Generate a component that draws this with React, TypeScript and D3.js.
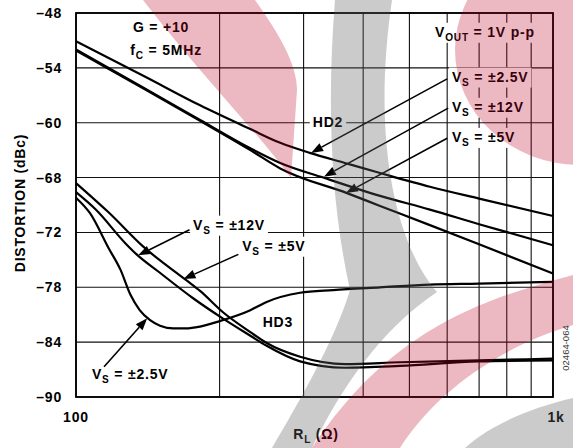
import React from 'react';
import * as d3 from 'd3';

const WIDTH = 573;
const HEIGHT = 448;

// axes
const X_DOMAIN = [100, 1000];
const Y_DOMAIN = [-90, -48];
const X_GRID = [100, 200, 300, 400, 500, 600, 700, 800, 900, 1000];
const X_TICK_VALUES = [100, 1000];
const X_TICK_LABELS = ['100', '1k'];
const Y_TICK_VALUES = [-48, -54, -60, -66, -72, -78, -84, -90];
const Y_TICK_LABELS = ['–48', '–54', '–60', '–68', '–72', '–78', '–84', '–90'];

// HD2 series (R_L in ohms, distortion in dBc)
const HD2_VS25_R = [100, 140, 182, 232, 268, 309, 366, 434, 552, 700, 1000];
const HD2_VS25_DB = [-51.1, -55.0, -58.1, -60.7, -62.2, -63.3, -64.4, -65.5, -67.0, -68.3, -70.2];
const HD2_VS12_R = [100, 140, 182, 232, 268, 330, 434, 552, 700, 1000];
const HD2_VS12_DB = [-52.0, -56.3, -59.7, -62.8, -64.4, -66.0, -68.0, -69.5, -71.1, -73.4];
const HD2_VS5_R = [100, 140, 182, 232, 268, 370, 434, 552, 700, 1000];
const HD2_VS5_DB = [-52.1, -56.4, -59.8, -63.0, -65.0, -67.7, -69.1, -71.2, -73.3, -76.5];

// HD3 series
const HD3_VS25_R = [100, 107, 117, 124, 130, 136, 143, 150, 160, 170, 182, 200, 232, 251, 295, 346, 434, 552, 700, 1000];
const HD3_VS25_DB = [-68.2, -69.9, -73.7, -76.1, -78.8, -80.5, -81.6, -82.2, -82.5, -82.5, -82.3, -81.7, -80.5, -79.6, -78.6, -78.3, -78.0, -77.7, -77.6, -77.4];
const HD3_VS5_R = [100, 117, 138, 170, 182, 203, 232, 251, 295, 366, 478, 700, 1000];
const HD3_VS5_DB = [-66.6, -69.8, -73.5, -77.2, -78.4, -80.7, -82.9, -84.1, -85.6, -86.4, -86.2, -86.0, -85.8];
const HD3_VS12_R = [100, 110, 127, 134, 149, 176, 203, 232, 251, 295, 366, 478, 700, 1000];
const HD3_VS12_DB = [-67.6, -69.5, -73.2, -74.4, -76.3, -79.2, -81.4, -83.3, -84.4, -86.1, -86.8, -86.6, -86.1, -86.0];

const SERIES_R = [HD2_VS25_R, HD2_VS12_R, HD2_VS5_R, HD3_VS25_R, HD3_VS5_R, HD3_VS12_R];
const SERIES_DB = [HD2_VS25_DB, HD2_VS12_DB, HD2_VS5_DB, HD3_VS25_DB, HD3_VS5_DB, HD3_VS12_DB];

// annotation labels ({} = subscript)
const LABEL_TEXT = ['G = +10', 'f{C} = 5MHz', 'V{OUT} = 1V p-p', 'V{S} = ±2.5V', 'V{S} = ±12V', 'V{S} = ±5V', 'HD2', 'V{S} = ±12V', 'V{S} = ±5V', 'HD3', 'V{S} = ±2.5V'];
const LABEL_R = [131.6, 130, 566, 614, 614, 614, 337.5, 176, 223, 265, 108];
const LABEL_DB = [-50.1, -52.6, -50.6, -55.5, -58.8, -62.1, -60.5, -71.7, -74.0, -82.3, -88.0];
const LABEL_ANCHOR = ['start', 'start', 'start', 'start', 'start', 'start', 'middle', 'start', 'start', 'middle', 'start'];
const LABEL_BOX = [false, false, true, true, true, true, true, true, true, true, true];

// arrows
const ARROW_TAIL_R = [600, 603, 600, 173, 219, 114.5];
const ARROW_TAIL_DB = [-55.2, -58.4, -61.7, -71.7, -74.4, -86.7];
const ARROW_TIP_R = [311, 331, 368, 135, 168, 141];
const ARROW_TIP_DB = [-63.3, -65.9, -67.7, -74.5, -77.1, -81.4];

const FONT = "'Liberation Sans', Arial, Helvetica, sans-serif";

function parseRich(s: string): [string, boolean][] {
  const out: [string, boolean][] = [];
  const re = /\{([^}]*)\}|([^{]+)/g;
  let m;
  while ((m = re.exec(s))) {
    if (m[1] !== undefined) out.push([m[1], true]);
    else out.push([m[2], false]);
  }
  return out;
}

function richText(g: any, x: number, y: number, s: string, anchor: string, size = 14) {
  const t = g.append('text')
    .attr('x', x).attr('y', y)
    .attr('text-anchor', anchor)
    .attr('font-family', FONT)
    .attr('font-weight', 'bold')
    .attr('font-size', size)
    .attr('letter-spacing', 0.8)
    .attr('fill', '#000');
  let shifted = false;
  parseRich(s).forEach(([txt, sub]) => {
    const ts = t.append('tspan').text(txt);
    if (sub) {
      ts.attr('font-size', size * 0.72);
      if (!shifted) { ts.attr('dy', 4); shifted = true; }
    } else if (shifted) {
      ts.attr('dy', -4); shifted = false;
    }
  });
  return t;
}

export default function App() {
  const ref = React.useRef<SVGSVGElement>(null);

  React.useEffect(() => {
    const svg = d3.select(ref.current);
    svg.selectAll('*').remove();

    const x = d3.scaleLog().domain(X_DOMAIN).range([76, 553]);
    const y = d3.scaleLinear().domain(Y_DOMAIN).range([397, 13]);

    svg.append('rect').attr('width', WIDTH).attr('height', HEIGHT).attr('fill', '#fff');

    const grid = svg.append('g').attr('stroke', '#111').attr('stroke-width', 1.1);
    X_GRID.forEach(v => {
      grid.append('line').attr('x1', x(v)).attr('x2', x(v)).attr('y1', y(Y_DOMAIN[1])).attr('y2', y(Y_DOMAIN[0]));
    });
    Y_TICK_VALUES.forEach(v => {
      grid.append('line').attr('x1', x(X_DOMAIN[0])).attr('x2', x(X_DOMAIN[1])).attr('y1', y(v)).attr('y2', y(v));
    });

    svg.append('rect')
      .attr('x', x(X_DOMAIN[0])).attr('y', y(Y_DOMAIN[1]))
      .attr('width', x(X_DOMAIN[1]) - x(X_DOMAIN[0]))
      .attr('height', y(Y_DOMAIN[0]) - y(Y_DOMAIN[1]))
      .attr('fill', 'none').attr('stroke', '#000').attr('stroke-width', 1.8);

    const bgLayer = svg.append('g');
    const curveLayer = svg.append('g');
    const textLayer = svg.append('g');

    LABEL_TEXT.forEach((s, i) => {
      const t = richText(textLayer, x(LABEL_R[i]), y(LABEL_DB[i]), s, LABEL_ANCHOR[i]);
      if (LABEL_BOX[i]) {
        const bb = (t.node() as SVGTextElement).getBBox();
        bgLayer.append('rect')
          .attr('x', bb.x - 3).attr('y', bb.y - 1)
          .attr('width', bb.width + 6).attr('height', bb.height + 1)
          .attr('fill', '#fff');
      }
    });

    const line = d3.line<[number, number]>()
      .x(d => x(d[0])).y(d => y(d[1]))
      .curve(d3.curveMonotoneX);

    SERIES_R.forEach((rs, i) => {
      const pts = rs.map((r, j) => [r, SERIES_DB[i][j]] as [number, number]);
      curveLayer.append('path')
        .attr('d', line(pts))
        .attr('fill', 'none').attr('stroke', '#000').attr('stroke-width', 2.2)
        .attr('stroke-linejoin', 'round');
    });

    const arrows = svg.append('g');
    ARROW_TAIL_R.forEach((_, i) => {
      const x1 = x(ARROW_TAIL_R[i]), y1 = y(ARROW_TAIL_DB[i]);
      const x2 = x(ARROW_TIP_R[i]), y2 = y(ARROW_TIP_DB[i]);
      const a = Math.atan2(y2 - y1, x2 - x1);
      const len = 12, hw = 4.5;
      const bx = x2 - len * Math.cos(a), by = y2 - len * Math.sin(a);
      arrows.append('line').attr('x1', x1).attr('y1', y1).attr('x2', bx).attr('y2', by)
        .attr('stroke', '#000').attr('stroke-width', 1.6);
      const p = [
        [x2, y2],
        [bx + hw * Math.sin(a), by - hw * Math.cos(a)],
        [bx - hw * Math.sin(a), by + hw * Math.cos(a)],
      ];
      arrows.append('polygon').attr('points', p.map(q => q.join(',')).join(' ')).attr('fill', '#000');
    });

    const axisText = svg.append('g');
    Y_TICK_VALUES.forEach((v, i) => {
      richText(axisText, 62, y(v) + 5, Y_TICK_LABELS[i], 'end');
    });
    X_TICK_VALUES.forEach((v, i) => {
      richText(axisText, x(v) + (i === 0 ? 0 : 3), 422, X_TICK_LABELS[i], 'middle');
    });
    richText(axisText, 0, 0, 'DISTORTION (dBc)', 'middle').attr('transform', 'translate(25,203) rotate(-90)');
    richText(axisText, 316, 439, 'R{L} (Ω)', 'middle');
    axisText.append('text')
      .attr('transform', 'translate(569,348) rotate(-90)')
      .attr('text-anchor', 'middle')
      .attr('font-family', FONT).attr('font-size', 9.5).attr('fill', '#333')
      .text('02464-064');

    // watermark overlay
    const wm = svg.append('g').attr('pointer-events', 'none');
    const pink = 'rgb(185,2,38)';
    const gray = 'rgb(98,98,98)';
    wm.append('path').attr('d', 'M143,0 L255,0 C280,35 297,65 297,90 L291,178 C260,135 205,80 143,0 Z')
      .attr('fill', pink).attr('opacity', 0.28);
    wm.append('ellipse').attr('cx', 580).attr('cy', 50).attr('rx', 125).attr('ry', 115)
      .attr('fill', pink).attr('opacity', 0.28);
    wm.append('path').attr('d', 'M573,275 C480,300 390,330 312,448 L400,448 C430,400 490,350 573,325 Z')
      .attr('fill', pink).attr('opacity', 0.28);
    wm.append('path').attr('d', 'M335,0 C327,100 330,200 350,290 C335,340 300,400 272,448 L312,448 C340,390 380,330 437,292 C400,250 370,150 392,0 Z')
      .attr('fill', gray).attr('opacity', 0.33);
    wm.append('path').attr('d', 'M465,448 C490,425 530,408 573,398 L573,448 Z')
      .attr('fill', gray).attr('opacity', 0.33);
  }, []);

  return (
    <svg
      ref={ref}
      width={WIDTH}
      height={HEIGHT}
      style={{ position: 'absolute', left: 0, top: 0, background: '#fff' }}
    />
  );
}
